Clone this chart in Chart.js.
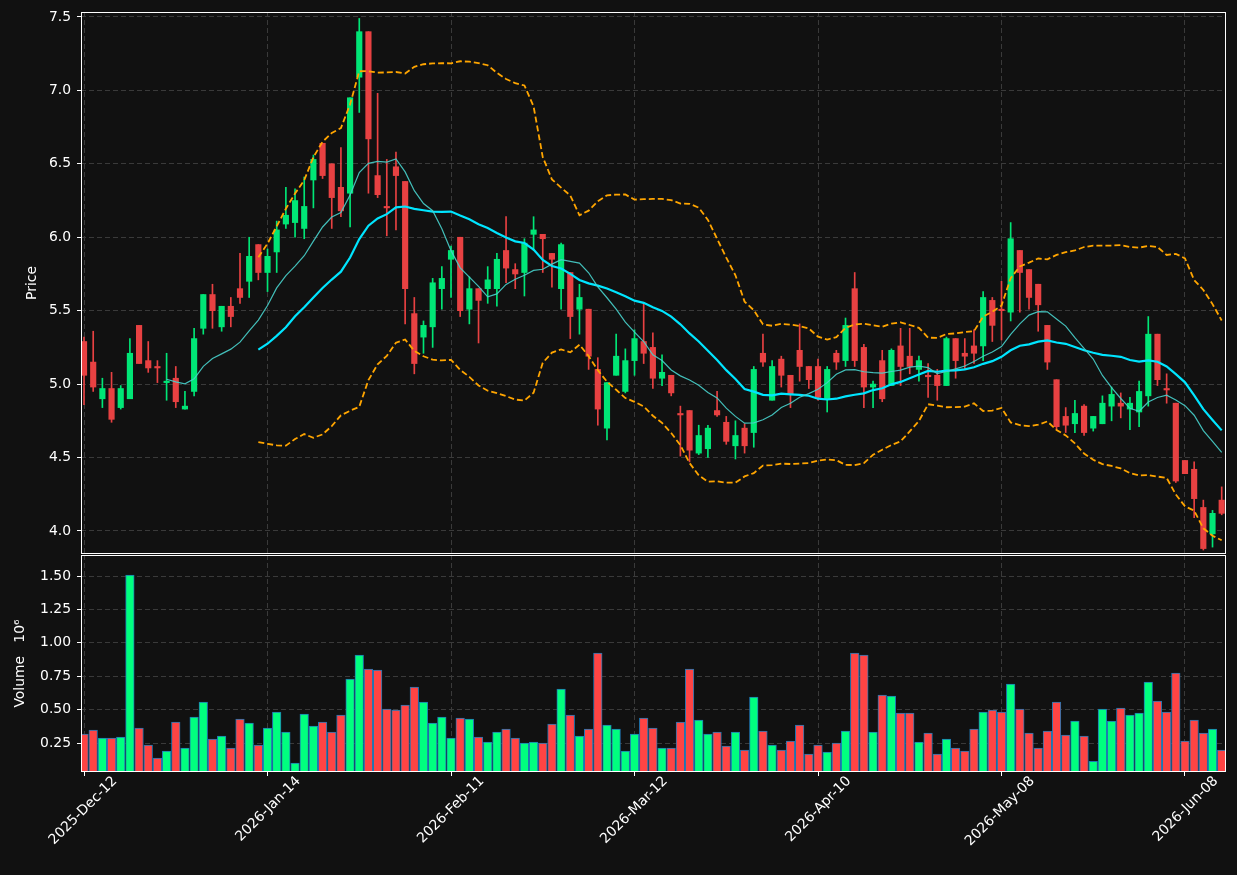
<!DOCTYPE html>
<html><head><meta charset="utf-8">
<script src="https://cdn.jsdelivr.net/npm/chart.js@4.4.1/dist/chart.umd.min.js"></script>
<style>
html,body{margin:0;padding:0;background:#111111;}
#wrap{position:relative;width:1237px;height:875px;background:#111111;overflow:hidden;}
#c1{position:absolute;left:0;top:0;}
#c2{position:absolute;left:0;top:555px;}
</style></head><body>
<div id="wrap"><canvas id="c1" width="1237" height="555"></canvas><canvas id="c2" width="1237" height="320"></canvas></div>
<script>
// ---- data ----
const tickLabels = ['2025-Dec-12','2026-Jan-14','2026-Feb-11','2026-Mar-12','2026-Apr-10','2026-May-08','2026-Jun-08'];
const priceTicks = [4.0, 4.5, 5.0, 5.5, 6.0, 6.5, 7.0, 7.5];
const volumeTicks = [0.25, 0.50, 0.75, 1.00, 1.25, 1.50];

const opens = [5.29,5.15,4.90,4.97,4.84,4.90,5.40,5.16,5.12,5.01,
5.04,4.83,4.95,5.38,5.61,5.39,5.53,5.65,5.70,5.95,
5.76,5.90,6.09,6.10,6.06,6.39,6.64,6.50,6.34,6.30,
7.09,7.40,6.42,6.21,6.48,6.38,5.48,5.32,5.39,5.65,
5.85,6.00,5.51,5.65,5.65,5.65,5.91,5.78,5.76,6.02,
6.02,5.89,5.65,5.76,5.51,5.51,5.10,4.70,5.06,4.95,
5.16,5.29,5.25,5.04,5.06,4.80,4.82,4.53,4.56,4.82,
4.74,4.58,4.70,4.67,5.21,4.89,5.17,5.06,5.23,5.12,
5.12,4.90,5.21,5.16,5.65,5.25,4.98,5.16,4.99,5.26,
5.19,5.10,5.06,5.06,4.99,5.31,5.21,5.26,5.26,5.57,
5.51,5.49,5.91,5.78,5.68,5.40,5.03,4.78,4.73,4.85,
4.70,4.73,4.85,4.87,4.83,4.81,4.92,5.34,4.97,4.87,
4.48,4.42,4.16,3.98,4.21];
const highs = [5.32,5.36,5.04,5.08,4.99,5.31,5.40,5.29,5.16,5.21,
5.12,4.95,5.38,5.61,5.68,5.53,5.59,5.89,6.00,5.95,
5.92,6.11,6.34,6.33,6.41,6.56,6.64,6.50,6.61,6.95,
7.49,7.40,6.98,6.53,6.58,6.38,5.59,5.43,5.72,5.80,
5.94,6.00,5.73,5.65,5.80,5.89,6.14,5.82,5.99,6.14,
6.02,5.89,5.96,5.76,5.68,5.51,5.18,5.01,5.34,5.24,
5.37,5.55,5.35,5.20,5.06,4.85,4.82,4.72,4.72,4.95,
4.78,4.75,4.73,5.12,5.34,5.16,5.19,5.06,5.41,5.12,
5.17,5.12,5.23,5.45,5.76,5.27,5.02,5.23,5.24,5.38,
5.38,5.19,5.14,5.10,5.32,5.31,5.31,5.37,5.63,5.59,
5.70,6.10,5.91,5.78,5.68,5.40,5.03,4.84,4.89,4.86,
4.78,4.92,4.98,4.94,4.91,5.02,5.46,5.34,5.07,4.87,
4.48,4.47,4.21,4.14,4.30];
const lows = [4.86,4.95,4.84,4.74,4.83,4.90,5.14,5.08,5.01,4.89,
4.84,4.83,4.92,5.34,5.38,5.36,5.39,5.55,5.59,5.71,
5.63,5.76,6.06,6.00,5.99,6.20,6.40,6.06,6.14,6.07,
6.85,6.30,6.27,6.01,6.05,5.41,5.07,5.21,5.25,5.51,
5.59,5.46,5.41,5.28,5.55,5.53,5.69,5.65,5.60,5.91,
5.76,5.66,5.51,5.31,5.34,5.10,4.72,4.62,5.06,4.94,
5.06,5.14,4.97,4.99,4.92,4.51,4.47,4.52,4.50,4.78,
4.59,4.49,4.53,4.57,5.12,4.89,4.98,4.84,5.02,4.97,
4.89,4.81,5.10,5.12,5.12,4.84,4.84,4.88,4.99,4.99,
5.07,5.02,4.91,4.89,4.99,5.04,5.10,5.14,5.16,5.29,
5.30,5.43,5.49,5.51,5.36,5.10,4.69,4.67,4.67,4.65,
4.68,4.73,4.75,4.77,4.69,4.71,4.85,4.99,4.87,4.33,
4.39,4.09,3.87,3.89,4.11];
const closes = [5.06,4.98,4.97,4.76,4.97,5.21,5.14,5.11,5.11,5.02,
4.88,4.85,5.31,5.61,5.50,5.53,5.46,5.59,5.87,5.76,
5.87,6.05,6.15,6.25,6.21,6.53,6.42,6.27,6.18,6.95,
7.40,6.67,6.29,6.20,6.42,5.65,5.14,5.40,5.69,5.72,
5.91,5.50,5.65,5.57,5.71,5.85,5.79,5.75,5.96,6.05,
5.99,5.85,5.95,5.46,5.59,5.19,4.83,5.01,5.19,5.16,
5.31,5.21,5.04,5.08,4.94,4.79,4.55,4.65,4.70,4.79,
4.61,4.65,4.58,5.10,5.15,5.12,5.06,4.93,5.12,5.03,
4.91,5.10,5.15,5.40,5.16,4.98,5.00,4.90,5.23,5.12,
5.12,5.16,5.05,4.99,5.31,5.16,5.19,5.21,5.59,5.40,
5.50,5.99,5.76,5.59,5.54,5.15,4.71,4.72,4.80,4.67,
4.78,4.87,4.93,4.85,4.87,4.95,5.34,5.03,4.96,4.34,
4.39,4.22,3.88,4.12,4.12];
const volumes = [0.317,0.347,0.287,0.287,0.294,1.507,0.362,0.234,0.137,0.189,
0.407,0.212,0.444,0.556,0.279,0.302,0.212,0.429,0.399,0.234,
0.362,0.481,0.332,0.100,0.466,0.377,0.407,0.332,0.459,0.728,
0.908,0.803,0.796,0.504,0.496,0.534,0.668,0.556,0.399,0.444,
0.287,0.436,0.429,0.294,0.257,0.332,0.354,0.287,0.249,0.257,
0.249,0.392,0.654,0.459,0.302,0.354,0.923,0.384,0.354,0.189,
0.317,0.436,0.362,0.212,0.212,0.407,0.803,0.422,0.317,0.332,
0.227,0.332,0.197,0.594,0.339,0.234,0.197,0.264,0.384,0.167,
0.234,0.182,0.249,0.339,0.923,0.908,0.332,0.609,0.601,0.474,
0.474,0.257,0.324,0.167,0.279,0.212,0.189,0.354,0.481,0.496,
0.481,0.691,0.504,0.324,0.212,0.339,0.556,0.309,0.414,0.302,
0.112,0.504,0.414,0.511,0.459,0.474,0.706,0.564,0.481,0.773,
0.264,0.422,0.324,0.354,0.197];

// ---- indicators derived from the closes (as in the original chart) ----
function movingAverage(arr, n) {
  const out = [];
  for (let i = n - 1; i < arr.length; i++) {
    let s = 0;
    for (let j = i - n + 1; j <= i; j++) s += arr[j];
    out.push({x: i, y: s / n});
  }
  return out;
}
function bollinger(arr, n, k, sign) {
  const out = [];
  for (let i = n - 1; i < arr.length; i++) {
    let s = 0;
    for (let j = i - n + 1; j <= i; j++) s += arr[j];
    const m = s / n;
    let v = 0;
    for (let j = i - n + 1; j <= i; j++) v += (arr[j] - m) * (arr[j] - m);
    out.push({x: i, y: m + sign * k * Math.sqrt(v / n)});
  }
  return out;
}

const idx = opens.map((_, i) => i);
const isUp = idx.map(i => closes[i] >= opens[i]);
const candleCol = isUp.map(u => u ? '#00e676' : '#e84142');
const volCol = isUp.map(u => u ? '#00ff7f' : '#ff4444');

Chart.defaults.font.family = 'DejaVu Sans';
Chart.defaults.font.size = 13.9;
Chart.defaults.color = '#ffffff';
Chart.defaults.animation = false;

const GRID = '#3a3a3a';
const frame = {
  id: 'frame',
  afterDraw(chart) {
    const {ctx, chartArea: a} = chart;
    ctx.save();
    ctx.strokeStyle = '#ffffff';
    ctx.lineWidth = 1;
    ctx.setLineDash([]);
    ctx.strokeRect(Math.round(a.left) + 0.5, Math.round(a.top) + 0.5,
                   Math.round(a.right - a.left) - 1, Math.round(a.bottom - a.top) - 1);
    ctx.restore();
  }
};

function xAxis(showLabels) {
  return {
    type: 'linear', min: -0.33, max: 124.47, offset: false,
    afterBuildTicks: s => { s.ticks = tickLabels.map((_, k) => ({value: k * 20})); },
    afterFit: s => { s.height = showLabels ? 103 : 0; s.paddingLeft = 0; s.paddingRight = 0; },
    ticks: {
      display: showLabels, autoSkip: false, minRotation: 45, maxRotation: 45,
      labelOffset: 31, padding: -3, color: '#ffffff',
      callback: v => tickLabels[Math.round(v / 20)] || ''
    },
    grid: { color: GRID, offset: false, drawTicks: showLabels, tickLength: 4,
            tickColor: '#ffffff', tickWidth: 1, tickBorderDash: [] },
    border: { display: false, dash: [5, 3] }
  };
}
function yAxis(min, max, ticks, digits, title, titlePad) {
  return {
    type: 'linear', min: min, max: max, beginAtZero: false,
    afterBuildTicks: s => { s.ticks = ticks.map(v => ({value: v})); },
    afterFit: s => { s.width = 81; s.paddingTop = 0; s.paddingBottom = 0; },
    ticks: { padding: 6, color: '#ffffff', callback: v => v.toFixed(digits) },
    grid: { color: GRID, drawTicks: true, tickLength: 4, tickColor: '#ffffff',
            tickWidth: 1, tickBorderDash: [] },
    border: { display: false, dash: [5, 3] },
    title: { display: true, text: title, color: '#ffffff', padding: {top: titlePad, bottom: 0} }
  };
}

new Chart(document.getElementById('c1'), {
  type: 'bar',
  data: {
    datasets: [
      { type: 'line', label: 'MA10', data: movingAverage(closes, 10), borderColor: 'rgba(72,209,204,0.9)',
        borderWidth: 1.2, pointRadius: 0, fill: false, tension: 0, order: 0 },
      { type: 'line', label: 'MA20', data: movingAverage(closes, 20), borderColor: '#00e5ff',
        borderWidth: 2.2, pointRadius: 0, fill: false, tension: 0, order: 0 },
      { type: 'line', label: 'Upper', data: bollinger(closes, 20, 2, 1), borderColor: '#ffa500',
        borderWidth: 1.8, borderDash: [6, 3], pointRadius: 0, fill: false, tension: 0, order: 0 },
      { type: 'line', label: 'Lower', data: bollinger(closes, 20, 2, -1), borderColor: '#ffa500',
        borderWidth: 1.8, borderDash: [6, 3], pointRadius: 0, fill: false, tension: 0, order: 0 },
      { type: 'bar', label: 'Body', data: idx.map(i => ({x: i, y: [opens[i], closes[i]]})),
        backgroundColor: candleCol, borderWidth: 0, barThickness: 5.5, minBarLength: 1,
        grouped: false, order: 2 },
      { type: 'bar', label: 'Wick', data: idx.map(i => ({x: i, y: [lows[i], highs[i]]})),
        backgroundColor: candleCol, borderWidth: 0, barThickness: 1, grouped: false, order: 3 }
    ]
  },
  options: {
    responsive: false, animation: false,
    layout: { padding: {left: 0, right: 11, top: 12, bottom: 1} },
    plugins: { legend: {display: false}, tooltip: {enabled: false} },
    scales: {
      x: xAxis(false),
      y: yAxis(3.843, 7.534, priceTicks, 1, 'Price', 23.6)
    }
  },
  plugins: [frame]
});

new Chart(document.getElementById('c2'), {
  type: 'bar',
  data: {
    datasets: [
      { label: 'Volume', data: idx.map(i => ({x: i, y: volumes[i]})),
        backgroundColor: volCol, borderColor: '#1f77b4', borderWidth: 1,
        borderSkipped: false, barThickness: 8.6, grouped: false }
    ]
  },
  options: {
    responsive: false, animation: false,
    layout: { padding: {left: 0, right: 11, top: 0, bottom: 0} },
    plugins: { legend: {display: false}, tooltip: {enabled: false} },
    scales: {
      x: xAxis(true),
      y: yAxis(0.033, 1.658, volumeTicks, 2, 'Volume   10\u2076', 11.6)
    }
  },
  plugins: [frame]
});
</script>
</body></html>
